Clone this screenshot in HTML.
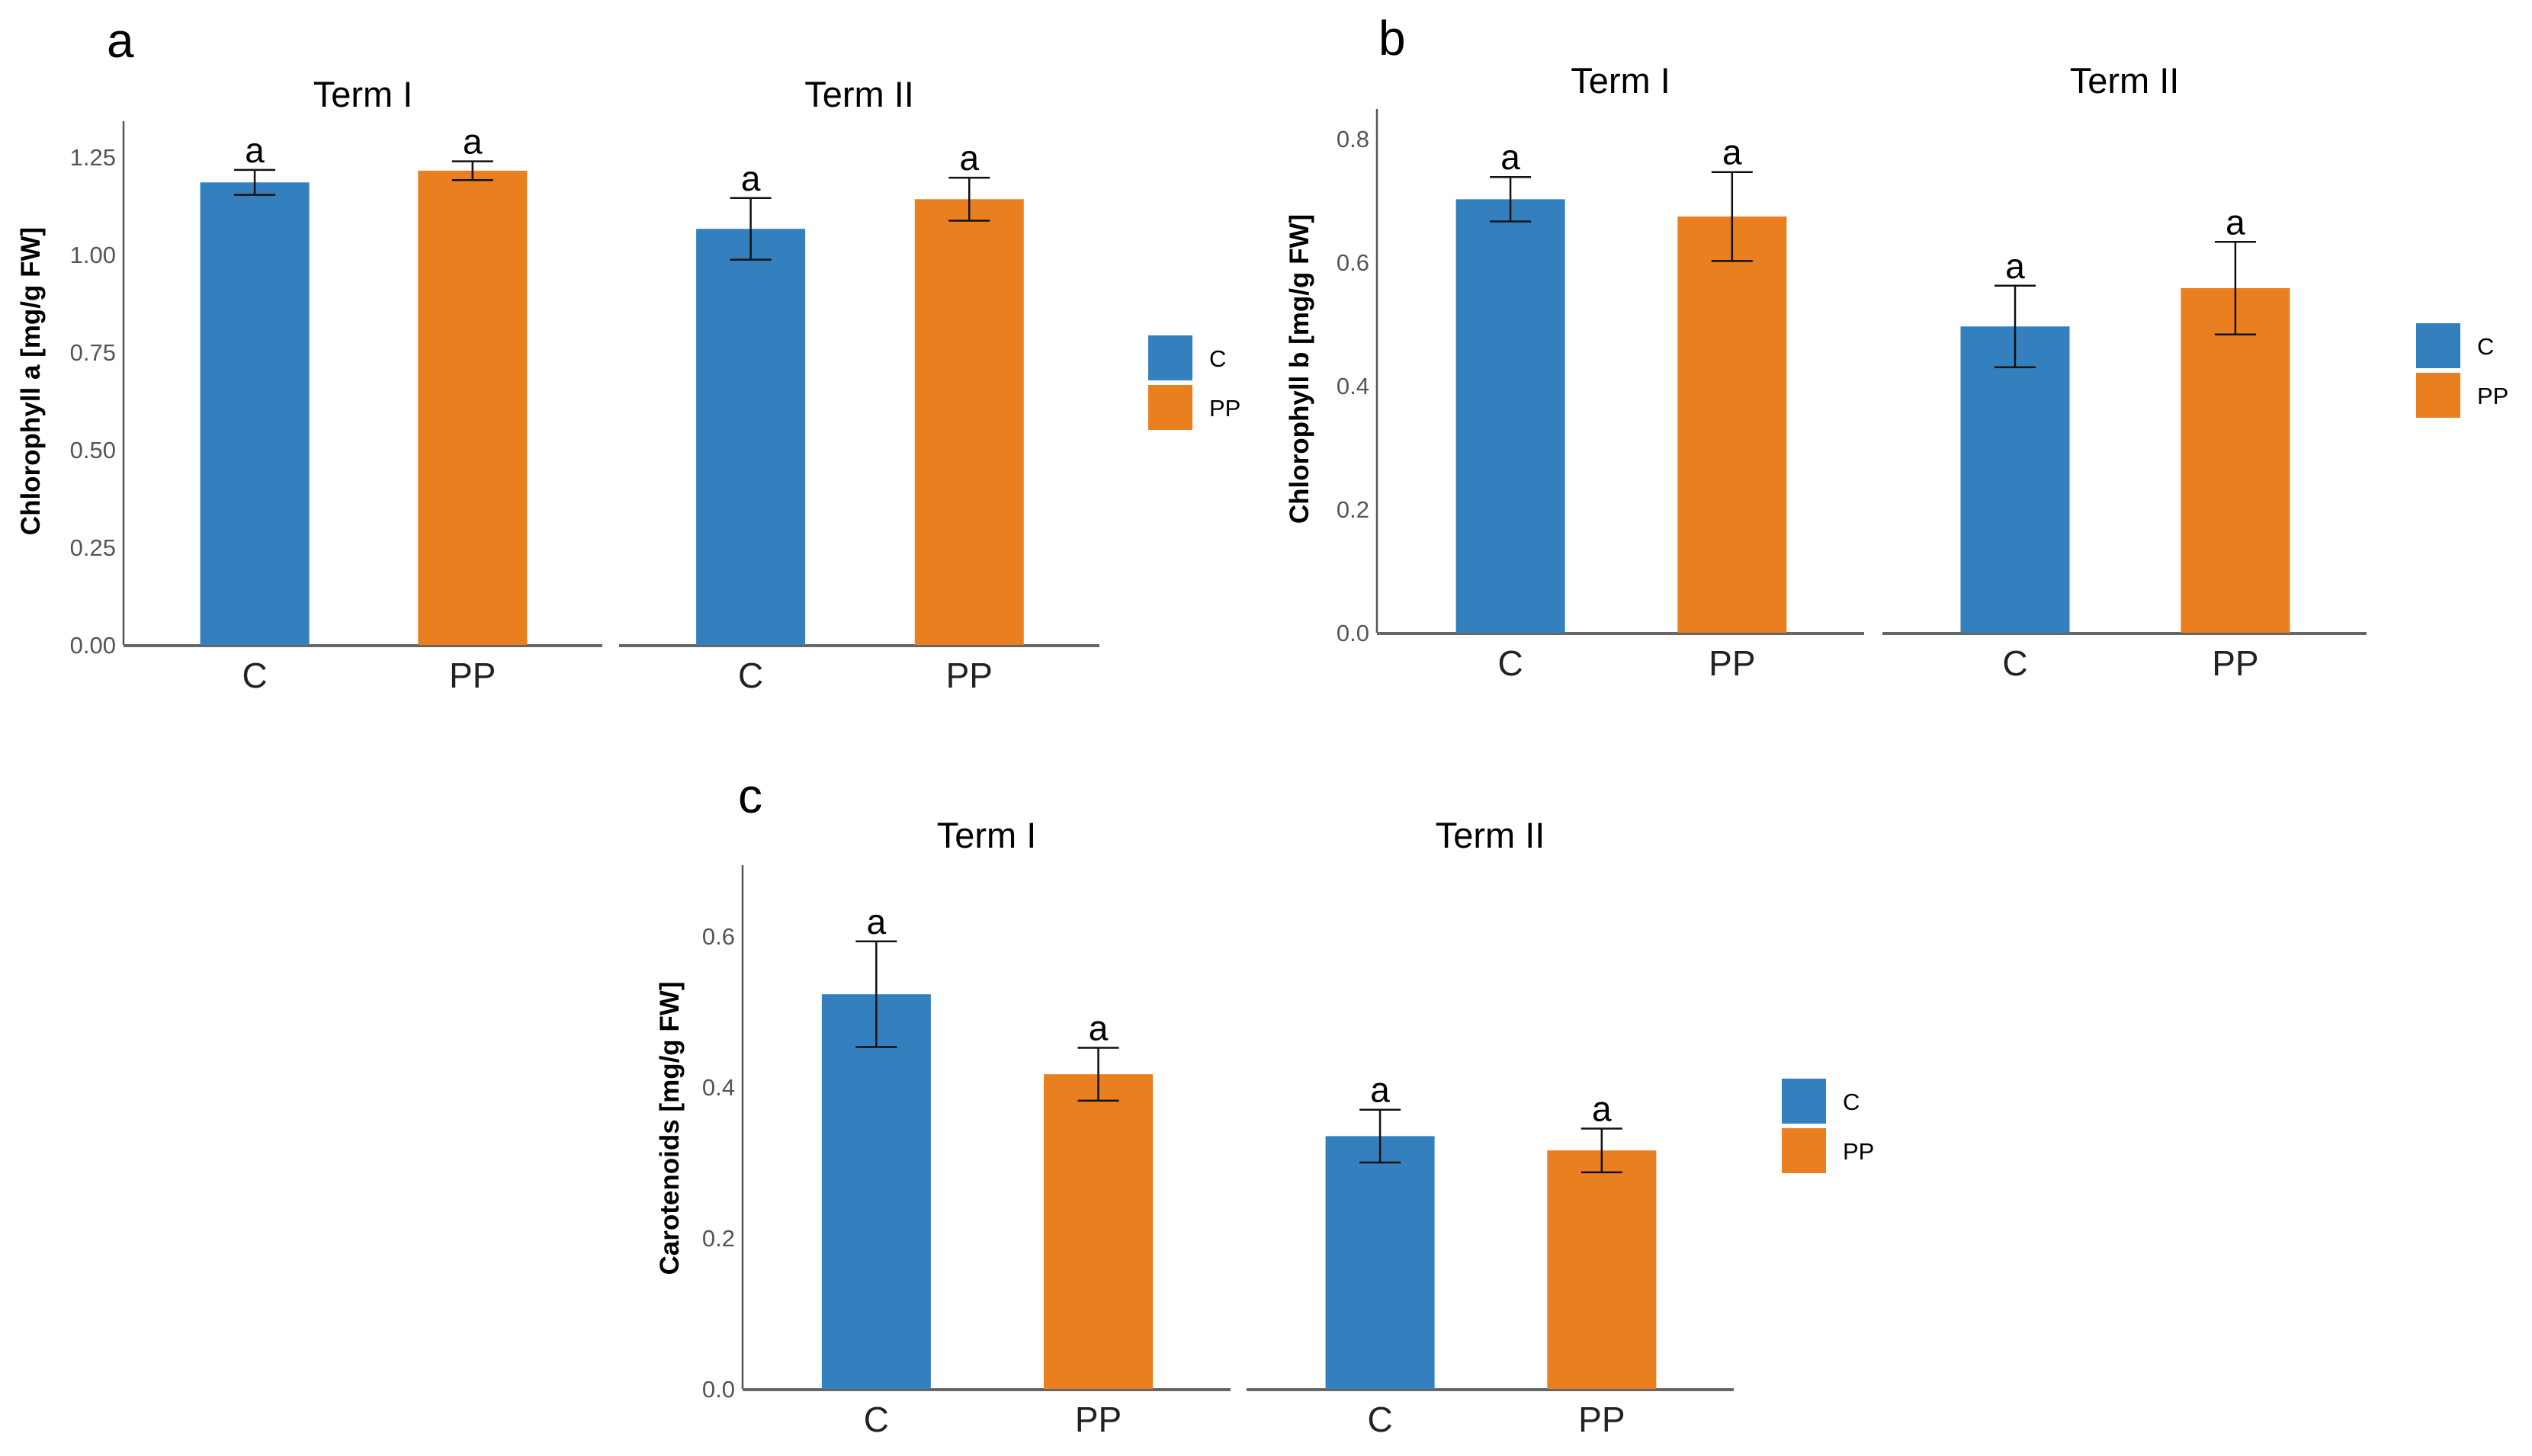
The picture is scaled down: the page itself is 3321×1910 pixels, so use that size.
<!DOCTYPE html>
<html><head><meta charset="utf-8"><style>
html,body{margin:0;padding:0;background:#fff;}
svg{display:block;}
</style></head><body>
<svg id="fig" width="3321" height="1910" viewBox="0 0 3321 1910" xmlns="http://www.w3.org/2000/svg" font-family="Liberation Sans, sans-serif"></svg>
<script>
// ---- data ----
const groups = ["C", "PP"];
const terms = ["Term I", "Term II"];
const chlaValues = [1.185, 1.215, 1.066, 1.142];
const chlaErrors = [0.032, 0.024, 0.079, 0.055];
const chlaTicks = ["0.00","0.25","0.50","0.75","1.00","1.25"];
const chlaTickVals = [0, 0.25, 0.5, 0.75, 1.0, 1.25];
const chlbValues = [0.702, 0.674, 0.496, 0.558];
const chlbErrors = [0.036, 0.072, 0.066, 0.075];
const chlbTicks = ["0.0","0.2","0.4","0.6","0.8"];
const chlbTickVals = [0, 0.2, 0.4, 0.6, 0.8];
const carValues = [0.523, 0.417, 0.335, 0.316];
const carErrors = [0.070, 0.035, 0.035, 0.029];
const carTicks = ["0.0","0.2","0.4","0.6"];
const carTickVals = [0, 0.2, 0.4, 0.6];
const sigLetters = ["a","a","a","a"];

const NS = "http://www.w3.org/2000/svg";
const svg = document.getElementById("fig");
const colors = ["#3480BE", "#E97F1F"];
function mk(tag, attrs, parent, text){
  const e = document.createElementNS(NS, tag);
  for (const k in attrs) e.setAttribute(k, attrs[k]);
  if (text !== undefined) e.textContent = text;
  parent.appendChild(e);
  return e;
}

function panel(cfg){
  const g = mk("g", {}, svg);
  
  
  const y = v => cfg.zero - v * cfg.scale;
  const pl = mk("text", {x: cfg.labelX, y: cfg.labelY, "font-size": 64, fill: "#000"}, g, cfg.letter);
  
  
  const ya = mk("line", {x1: cfg.axisX, x2: cfg.axisX, y1: cfg.axisTop, y2: cfg.zero, stroke: "#555", "stroke-width": 2.5}, g);
  
  
  cfg.tickVals.forEach((tv, i) => {
    const t = mk("text", {x: cfg.axisX - 10, y: y(tv) + 11, "font-size": 31, fill: "#555", "text-anchor": "end"}, g, cfg.ticks[i]);
    
    
  });
  const yt = mk("text", {x: 0, y: 0, "font-size": 35, "font-weight": "bold", fill: "#000", "text-anchor": "middle",
    transform: `translate(${cfg.ytX},${cfg.ytY}) rotate(-90)`}, g, cfg.yTitle);
  
  
  for (let f = 0; f < 2; f++) {
    const px0 = cfg.facetX[f][0], px1 = cfg.facetX[f][1];
    const base = mk("line", {x1: px0, x2: px1, y1: cfg.zero + 1, y2: cfg.zero + 1, stroke: "#666", "stroke-width": 4}, g);
    
    
    const tt = mk("text", {x: (px0 + px1) / 2, y: cfg.termY, "font-size": 47, fill: "#000", "text-anchor": "middle"}, g, terms[f]);
    
    
    const w = px1 - px0;
    for (let k = 0; k < 2; k++) {
      const i = f * 2 + k;
      const cx = px0 + w * (k === 0 ? 0.274 : 0.729);
      const bw = 143;
      const v = cfg.values[i], e = cfg.errors[i];
      const bar = mk("rect", {x: cx - bw/2, y: y(v), width: bw, height: cfg.zero - y(v), fill: colors[k]}, g);
      
      
      const eb = mk("path", {d: `M${cx-27},${y(v+e)}H${cx+27}M${cx},${y(v+e)}V${y(v-e)}M${cx-27},${y(v-e)}H${cx+27}`,
        stroke: "#111", "stroke-width": 2.5, fill: "none"}, g);
      
      
      const sl = mk("text", {x: cx, y: y(v+e) - 10, "font-size": 46, fill: "#000", "text-anchor": "middle"}, g, sigLetters[i]);
      
      
      const xl = mk("text", {x: cx, y: cfg.zero + 56, "font-size": 46, fill: "#222", "text-anchor": "middle"}, g, groups[k]);
      
      
    }
  }
  for (let k = 0; k < 2; k++) {
    const ly = cfg.legY + k * 65;
    const sw = mk("rect", {x: cfg.legX, y: ly, width: 58, height: 59, fill: colors[k]}, g);
    
    
    const lt = mk("text", {x: cfg.legX + 80, y: ly + 41, "font-size": 31, fill: "#000"}, g, groups[k]);
    
    
  }
}

panel({name: "panel-a-chlorophyll-a", letter: "a", labelX: 140, labelY: 75,
  axisX: 162, axisTop: 159, zero: 846, scale: 512,
  ticks: chlaTicks, tickVals: chlaTickVals, values: chlaValues, errors: chlaErrors,
  yTitle: "Chlorophyll a [mg/g FW]", ytX: 52, ytY: 500,
  facetX: [[162, 790], [812, 1442]], termY: 140, legX: 1506, legY: 440});
panel({name: "panel-b-chlorophyll-b", letter: "b", labelX: 1808, labelY: 72,
  axisX: 1806, axisTop: 143, zero: 830, scale: 810,
  ticks: chlbTicks, tickVals: chlbTickVals, values: chlbValues, errors: chlbErrors,
  yTitle: "Chlorophyll b [mg/g FW]", ytX: 1716, ytY: 484,
  facetX: [[1806, 2445], [2469, 3104]], termY: 122, legX: 3169, legY: 424});
panel({name: "panel-c-carotenoids", letter: "c", labelX: 968, labelY: 1066,
  axisX: 974, axisTop: 1135, zero: 1822, scale: 990,
  ticks: carTicks, tickVals: carTickVals, values: carValues, errors: carErrors,
  yTitle: "Carotenoids [mg/g FW]", ytX: 890, ytY: 1480,
  facetX: [[974, 1614], [1635, 2274]], termY: 1112, legX: 2337, legY: 1415});
</script>
</body></html>
